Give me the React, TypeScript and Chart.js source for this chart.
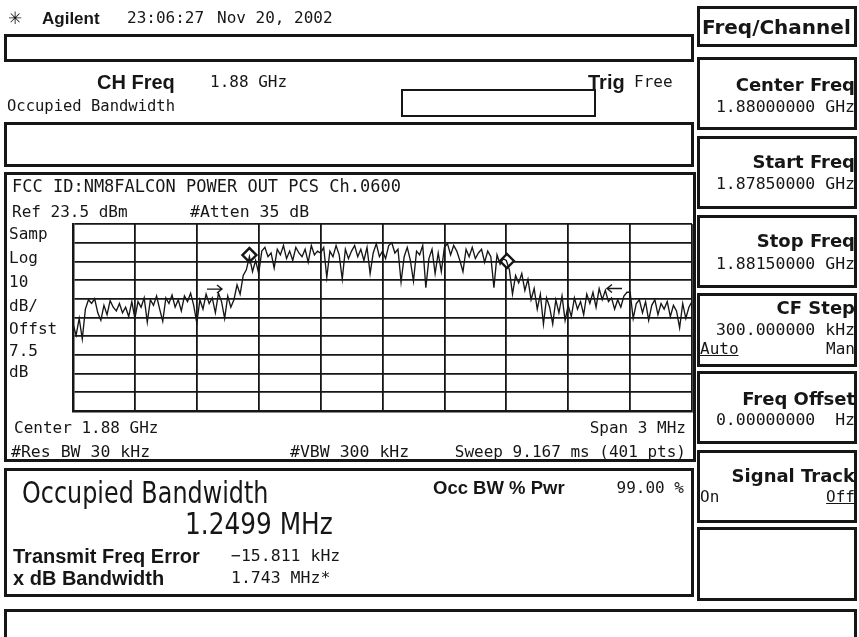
import React, { useEffect, useRef } from "react";
import { Chart, registerables } from "chart.js";

Chart.register(...registerables);

// Sweep: centre 1.88 GHz, span 3 MHz -> frequency offsets in MHz
const START_MHZ = -1.5;
const STOP_MHZ = 1.5;
const X_GRID_MHZ = [-1.5, -1.2, -0.9, -0.6, -0.3, 0, 0.3, 0.6, 0.9, 1.2, 1.5];
// Ref 23.5 dBm, 10 dB/div
const Y_GRID_DBM = [23.5, 13.5, 3.5, -6.5, -16.5, -26.5, -36.5, -46.5, -56.5, -66.5, -76.5];

// Trace (dBm), evenly spaced across the span
const TRACE_DBM = [
  -30, -36, -27, -38,
  -22, -17, -19, -16.5, -24, -28, -20, -25, -17.5, -21, -23, -19, -24, -21, -26, -18,
  -27, -18, -21, -16, -29, -17, -20, -15, -22, -28.5, -16, -19, -14.5, -21, -17, -23, -15, -18, -13.5, -20,
  -29.5, -17, -22, -14, -19, -16, -24, -13.5, -18, -27, -15, -21, -17, -9, -14, -4, -1, 6, -2, 4,
  -3, 9, 11, 6, 8, 0, 10, 7, 12, 5, 9, 4, 11, 8, 6, 10, 3, 12, 7, 9,
  8, 11, -5, 9, 6, 12, 7, -6, 10, 5, 9, 12, 6, 10, 4, 11, -3, 8, 13, 6,
  9, 5, 12, 13.5, 8, 10, -7.5, 6, 11, 4, -7, 9, 7, 12, -10.5, 5, 10, -3, 8, -2,
  11, 13, 7, 12, 9, 4, -2, 10, 6, 11, 5, 8, 10, 3, 9, 6, -10.5, 7, 2, 5,
  4, -1, -14, -4, -8, -3, -12, -6, -17, -11, -22, -14, -30, -16, -21, -30, -17, -24, -15, -28,
  -20, -26, -16, -22, -18, -25, -14, -19, -13, -21, -11, -17, -12, -18, -16, -22, -17, -21, -15, -13,
  -13, -27, -19, -17, -24, -18, -28, -20, -17, -25, -19, -22, -18, -26, -20, -23, -32, -19, -27, -21, -18,
];

// Occupied bandwidth edge markers (diamonds)
const OBW_EDGE_MHZ = [-0.645, 0.603];
const OBW_EDGE_DBM = [6.9, 3.7];
// x dB bandwidth arrows (tip positions)
const XDB_ARROW_MHZ = [-0.778, 1.088];
const XDB_ARROW_DBM = [-11.3, -11.0];

const MONO = '"DejaVu Sans Mono", monospace';
const SANS = '"DejaVu Sans", sans-serif';
const ARIAL = '"Liberation Sans", Arial, sans-serif';
const INK = "#161616";

const arrowPlugin = {
  id: "xdbArrows",
  afterDatasetsDraw(chart: any) {
    const { ctx, scales } = chart;
    const xs = scales.x;
    const ys = scales.y;
    ctx.save();
    ctx.strokeStyle = INK;
    ctx.lineWidth = 1.4;
    XDB_ARROW_MHZ.forEach((f, i) => {
      const px = xs.getPixelForValue(f);
      const py = ys.getPixelForValue(XDB_ARROW_DBM[i]);
      const dir = i === 0 ? 1 : -1;
      ctx.beginPath();
      ctx.moveTo(px - dir * 15, py);
      ctx.lineTo(px, py);
      ctx.moveTo(px - dir * 5, py - 4);
      ctx.lineTo(px, py);
      ctx.lineTo(px - dir * 5, py + 4);
      ctx.stroke();
    });
    ctx.restore();
  },
};

function Box({ l, t, r, b, w = 3 }: { l: number; t: number; r: number; b: number; w?: number }) {
  return (
    <div
      style={{
        position: "absolute",
        left: l,
        top: t,
        width: r - l,
        height: b - t,
        border: `${w}px solid ${INK}`,
        boxSizing: "border-box",
      }}
    />
  );
}

function T(props: {
  x?: number;
  r?: number;
  y: number;
  s: number;
  f?: string;
  b?: boolean;
  u?: boolean;
  sx?: number;
  children: React.ReactNode;
}) {
  const { x, r, y, s, f = MONO, b = false, u = false, sx } = props;
  const style: any = {
    position: "absolute",
    top: y - s * 0.49,
    fontSize: s,
    lineHeight: `${s}px`,
    fontFamily: f,
    fontWeight: b ? "bold" : "normal",
    whiteSpace: "pre",
    color: INK,
    zIndex: 2,
  };
  if (r !== undefined) style.right = 859 - r;
  else style.left = x;
  if (u) style.textDecoration = "underline";
  if (sx) {
    style.transform = `scaleX(${sx})`;
    style.transformOrigin = r !== undefined ? "right center" : "left center";
  }
  return <div style={style}>{props.children}</div>;
}

export default function App() {
  const ref = useRef<HTMLCanvasElement | null>(null);

  useEffect(() => {
    if (!ref.current) return;
    const step = (STOP_MHZ - START_MHZ) / (TRACE_DBM.length - 1);
    const trace = TRACE_DBM.map((v, i) => ({ x: START_MHZ + i * step, y: v }));
    const markers = OBW_EDGE_MHZ.map((f, i) => ({ x: f, y: OBW_EDGE_DBM[i] }));
    const gridOpts = { color: INK, lineWidth: 1.8, drawTicks: false };
    const chart = new Chart(ref.current, {
      type: "line",
      data: {
        datasets: [
          {
            data: trace,
            borderColor: INK,
            borderWidth: 1.35,
            pointRadius: 0,
            tension: 0,
            fill: false,
          },
          {
            data: markers,
            showLine: false,
            pointStyle: "rectRot",
            pointRadius: 7,
            pointBackgroundColor: "#ffffff",
            pointBorderColor: INK,
            pointBorderWidth: 2.4,
          },
        ],
      },
      options: {
        animation: false,
        responsive: false,
        maintainAspectRatio: false,
        events: [],
        layout: { padding: { left: 73, top: 224, right: 167, bottom: 226 } },
        plugins: { legend: { display: false }, tooltip: { enabled: false } },
        scales: {
          x: {
            type: "linear",
            min: START_MHZ,
            max: STOP_MHZ,
            afterBuildTicks: (axis: any) => {
              axis.ticks = X_GRID_MHZ.map((v) => ({ value: v }));
            },
            ticks: { display: false },
            grid: gridOpts,
            border: { color: INK, width: 2.5 },
          },
          y: {
            type: "linear",
            min: Y_GRID_DBM[Y_GRID_DBM.length - 1],
            max: Y_GRID_DBM[0],
            afterBuildTicks: (axis: any) => {
              axis.ticks = Y_GRID_DBM.map((v) => ({ value: v }));
            },
            ticks: { display: false },
            grid: gridOpts,
            border: { color: INK, width: 2.5 },
          },
        },
      } as any,
      plugins: [arrowPlugin],
    });
    return () => chart.destroy();
  }, []);

  return (
    <div
      style={{
        position: "fixed",
        left: 0,
        top: 0,
        width: 859,
        height: 637,
        background: "#ffffff",
        overflow: "hidden",
      }}
    >
      {/* left-hand frames */}
      <Box l={4} t={34} r={694} b={62} />
      <Box l={401} t={89} r={596} b={117} w={2} />
      <Box l={4} t={122} r={694} b={167} />
      <Box l={4} t={172} r={696} b={462} />
      <Box l={4} t={468} r={694} b={597} />
      <Box l={4} t={609} r={857} b={645} />
      {/* softkey frames */}
      <Box l={697} t={6} r={857} b={47} />
      <Box l={697} t={57} r={857} b={130} />
      <Box l={697} t={136} r={857} b={209} />
      <Box l={697} t={215} r={857} b={288} />
      <Box l={697} t={293} r={857} b={367} />
      <Box l={697} t={371} r={857} b={444} />
      <Box l={697} t={450} r={857} b={523} />
      <Box l={697} t={527} r={857} b={601} />

      <canvas
        ref={ref}
        width={859}
        height={637}
        style={{ position: "absolute", left: 0, top: 0, width: 859, height: 637, zIndex: 1 }}
      />

      {/* header */}
      <T x={8} y={18} s={17} f={SANS}>✳</T>
      <T x={42} y={18} s={17} f={ARIAL} b>Agilent</T>
      <T x={127} y={18} s={16}>23:06:27</T>
      <T x={217} y={18} s={16}>Nov 20, 2002</T>
      <T x={97} y={82} s={20} f={ARIAL} b>CH Freq</T>
      <T x={210} y={82} s={16}>1.88 GHz</T>
      <T x={588} y={82} s={20} f={ARIAL} b>Trig</T>
      <T x={634} y={82} s={16}>Free</T>
      <T x={7} y={107} s={15.5}>Occupied Bandwidth</T>

      {/* graticule annotations */}
      <T x={12} y={186} s={17}>FCC ID:NM8FALCON POWER OUT PCS Ch.0600</T>
      <T x={12} y={212} s={16}>Ref 23.5 dBm</T>
      <T x={190} y={212} s={16.5}>#Atten 35 dB</T>
      <T x={9} y={234} s={16}>Samp</T>
      <T x={9} y={258} s={16}>Log</T>
      <T x={9} y={282} s={16}>10</T>
      <T x={9} y={306} s={16}>dB/</T>
      <T x={9} y={329} s={16}>Offst</T>
      <T x={9} y={351} s={16}>7.5</T>
      <T x={9} y={372} s={16}>dB</T>
      <T x={14} y={428} s={16}>Center 1.88 GHz</T>
      <T r={686} y={428} s={16}>Span 3 MHz</T>
      <T x={11} y={452} s={16.5}>#Res BW 30 kHz</T>
      <T x={290} y={452} s={16.5}>#VBW 300 kHz</T>
      <T r={686} y={452} s={16}>Sweep 9.167 ms (401 pts)</T>

      {/* measurement results */}
      <T x={22} y={492} s={31} f={SANS} sx={0.77}>Occupied Bandwidth</T>
      <T x={185} y={523} s={31} f={SANS} sx={0.8}>1.2499 MHz</T>
      <T x={433} y={488} s={18.5} f={ARIAL} b>Occ BW % Pwr</T>
      <T r={684} y={488} s={16}>99.00 %</T>
      <T x={13} y={556} s={20} f={ARIAL} b>Transmit Freq Error</T>
      <T x={231} y={556} s={16.5}>−15.811 kHz</T>
      <T x={13} y={578} s={20} f={ARIAL} b>x dB Bandwidth</T>
      <T x={231} y={578} s={16.5}>1.743 MHz*</T>

      {/* softkeys */}
      <T x={702} y={27} s={20} f={SANS} b>Freq/Channel</T>
      <T r={855} y={85} s={18} f={SANS} b>Center Freq</T>
      <T r={855} y={107} s={16.5}>1.88000000 GHz</T>
      <T r={855} y={162} s={18} f={SANS} b>Start Freq</T>
      <T r={855} y={184} s={16.5}>1.87850000 GHz</T>
      <T r={855} y={241} s={18} f={SANS} b>Stop Freq</T>
      <T r={855} y={264} s={16.5}>1.88150000 GHz</T>
      <T r={855} y={308} s={18} f={SANS} b>CF Step</T>
      <T r={855} y={330} s={16.5}>300.000000 kHz</T>
      <T x={700} y={349} s={16} u>Auto</T>
      <T r={855} y={349} s={16}>Man</T>
      <T r={855} y={399} s={18} f={SANS} b>Freq Offset</T>
      <T r={855} y={420} s={16.5}>0.00000000  Hz</T>
      <T r={855} y={476} s={18} f={SANS} b>Signal Track</T>
      <T x={700} y={497} s={16}>On</T>
      <T r={855} y={497} s={16} u>Off</T>
    </div>
  );
}
